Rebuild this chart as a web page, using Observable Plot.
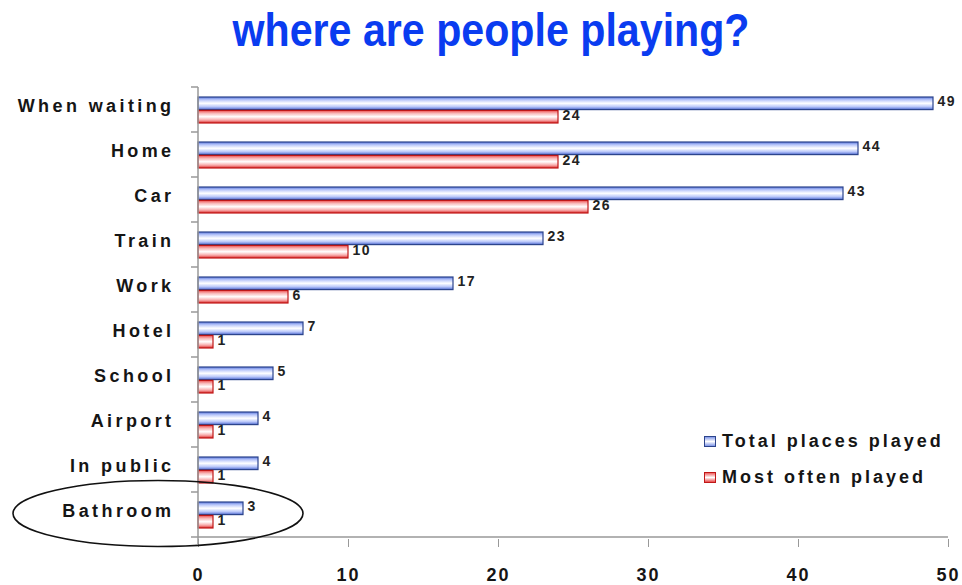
<!DOCTYPE html>
<html>
<head>
<meta charset="utf-8">
<script src="https://cdn.jsdelivr.net/npm/d3@7"></script>
<script src="https://cdn.jsdelivr.net/npm/@observablehq/plot@0.6"></script>
<style>
  html, body { margin: 0; padding: 0; background: #fff; }
  #wrap { position: relative; width: 962px; height: 585px; overflow: hidden; }
  #title { position: absolute; left: 0; top: 0; }
  .legend { position: absolute; left: 704px; font-family: "Liberation Sans", Arial, sans-serif; font-weight: bold; font-size: 18px; letter-spacing: 3px; color: #151515; display: flex; align-items: center; }
  .sw { width: 12px; height: 11px; margin-right: 6px; box-sizing: border-box; }
</style>
</head>
<body>
<div id="wrap">
  <svg id="title" width="962" height="70">
    <text x="491" y="46" text-anchor="middle" textLength="517" lengthAdjust="spacingAndGlyphs"
      font-family="'Liberation Sans Narrow','Liberation Sans',Arial,sans-serif" font-weight="bold" font-size="46" fill="#0a3cf0">where are people playing?</text>
  </svg>
  <div id="chart"></div>
  <div class="legend" style="top:431px"><div class="sw" style="border:1px solid #2c448c;background:linear-gradient(#7f96e8,#fff,#7f96e8)"></div><span id="lg1"></span></div>
  <div class="legend" style="top:467px"><div class="sw" style="border:1px solid #c01818;background:linear-gradient(#f06060,#fff,#e84848)"></div><span id="lg2"></span></div>
</div>
<script>
const categories = ["When waiting", "Home", "Car", "Train", "Work", "Hotel", "School", "Airport", "In public", "Bathroom"];
const totalPlaced = [49, 44, 43, 23, 17, 7, 5, 4, 4, 3];
const mostOften = [24, 24, 26, 10, 6, 1, 1, 1, 1, 1];
const seriesNames = ["Total places played", "Most often played"];
const xTicks = [0, 10, 20, 30, 40, 50];

document.getElementById("lg1").textContent = seriesNames[0];
document.getElementById("lg2").textContent = seriesNames[1];

const totalData = categories.map((c, i) => ({category: c, value: totalPlaced[i]}));
const mostData = categories.map((c, i) => ({category: c, value: mostOften[i]}));

const labelFont = {fontFamily: "'Liberation Sans', Arial, sans-serif", fontWeight: "bold"};

const plot = Plot.plot({
  width: 962,
  height: 585,
  marginTop: 85,
  marginBottom: 46,
  marginLeft: 198,
  marginRight: 14,
  style: {fontFamily: "'Liberation Sans', Arial, sans-serif", background: "transparent"},
  x: {domain: [0, 50]},
  y: {domain: categories, padding: 0},
  marks: [
    Plot.barX(totalData, {x: "value", y: "category", fill: "url(#gBlue)", stroke: "#2c448c", strokeWidth: 1.2, insetTop: 10, insetBottom: 22.4}),
    Plot.barX(mostData, {x: "value", y: "category", fill: "url(#gRed)", stroke: "#c01818", strokeWidth: 1.2, insetTop: 23.4, insetBottom: 9}),
    Plot.text(totalData, {x: "value", y: "category", text: d => String(d.value), textAnchor: "start", dx: 4, dy: -8, fontSize: 14, fill: "#222", ...labelFont, lineAnchor: "middle"}),
    Plot.text(mostData, {x: "value", y: "category", text: d => String(d.value), textAnchor: "start", dx: 4, dy: 6, fontSize: 14, fill: "#222", ...labelFont, lineAnchor: "middle"}),
    Plot.axisY({tickSize: 0, tickPadding: 24, fontSize: 18, fontWeight: "bold", fill: "#151515", dy: -4, label: null}),
    Plot.axisX({ticks: xTicks, tickSize: 8, tickPadding: 21, stroke: "#999", fontSize: 18, fontWeight: "bold", fill: "#151515", label: null, tickFormat: d => String(d)})
  ]
});

document.getElementById("chart").appendChild(plot);

const svg = d3.select(plot);
const defs = svg.insert("defs", ":first-child");
const gb = defs.append("linearGradient").attr("id", "gBlue").attr("x1", 0).attr("y1", 0).attr("x2", 0).attr("y2", 1);
gb.append("stop").attr("offset", "0%").attr("stop-color", "#5a78dc");
gb.append("stop").attr("offset", "22%").attr("stop-color", "#b8c6fa");
gb.append("stop").attr("offset", "50%").attr("stop-color", "#ffffff");
gb.append("stop").attr("offset", "78%").attr("stop-color", "#b8c6fa");
gb.append("stop").attr("offset", "100%").attr("stop-color", "#4a66cc");
const gr = defs.append("linearGradient").attr("id", "gRed").attr("x1", 0).attr("y1", 0).attr("x2", 0).attr("y2", 1);
gr.append("stop").attr("offset", "0%").attr("stop-color", "#ec4a4a");
gr.append("stop").attr("offset", "22%").attr("stop-color", "#f8b4b4");
gr.append("stop").attr("offset", "50%").attr("stop-color", "#ffffff");
gr.append("stop").attr("offset", "78%").attr("stop-color", "#f8a8a8");
gr.append("stop").attr("offset", "100%").attr("stop-color", "#d82a2a");

svg.selectAll("[aria-label='y-axis tick label'] text").style("letter-spacing", "3.4px");
svg.selectAll("[aria-label='x-axis tick label'] text").style("letter-spacing", "2px");
svg.selectAll("g[aria-label='text'] text").style("letter-spacing", "1.5px");

// axis lines and category-boundary ticks, positioned through the plot's scales
const xs = plot.scale("x"), ys = plot.scale("y");
const x0 = xs.apply(0), x1 = xs.apply(50);
const bw = ys.bandwidth;
const yTop = ys.apply(categories[0]);
const yBot = ys.apply(categories[categories.length - 1]) + bw;
const axes = svg.append("g").attr("stroke", "#999").attr("stroke-width", 1.5).attr("fill", "none");
axes.append("line").attr("x1", x0).attr("x2", x0).attr("y1", yTop).attr("y2", yBot + 7);
axes.append("line").attr("x1", x0).attr("x2", x1).attr("y1", yBot).attr("y2", yBot);
for (let i = 0; i <= categories.length; i++) {
  const yy = yTop + i * bw;
  axes.append("line").attr("x1", x0 - 7).attr("x2", x0).attr("y1", yy).attr("y2", yy);
}
// ellipse annotation around the last category
const yc = ys.apply("Bathroom") + bw / 2;
svg.append("ellipse").attr("cx", x0 - 40).attr("cy", yc - 1).attr("rx", 145).attr("ry", 33)
  .attr("fill", "none").attr("stroke", "#111").attr("stroke-width", 1.6);
</script>
</body>
</html>
